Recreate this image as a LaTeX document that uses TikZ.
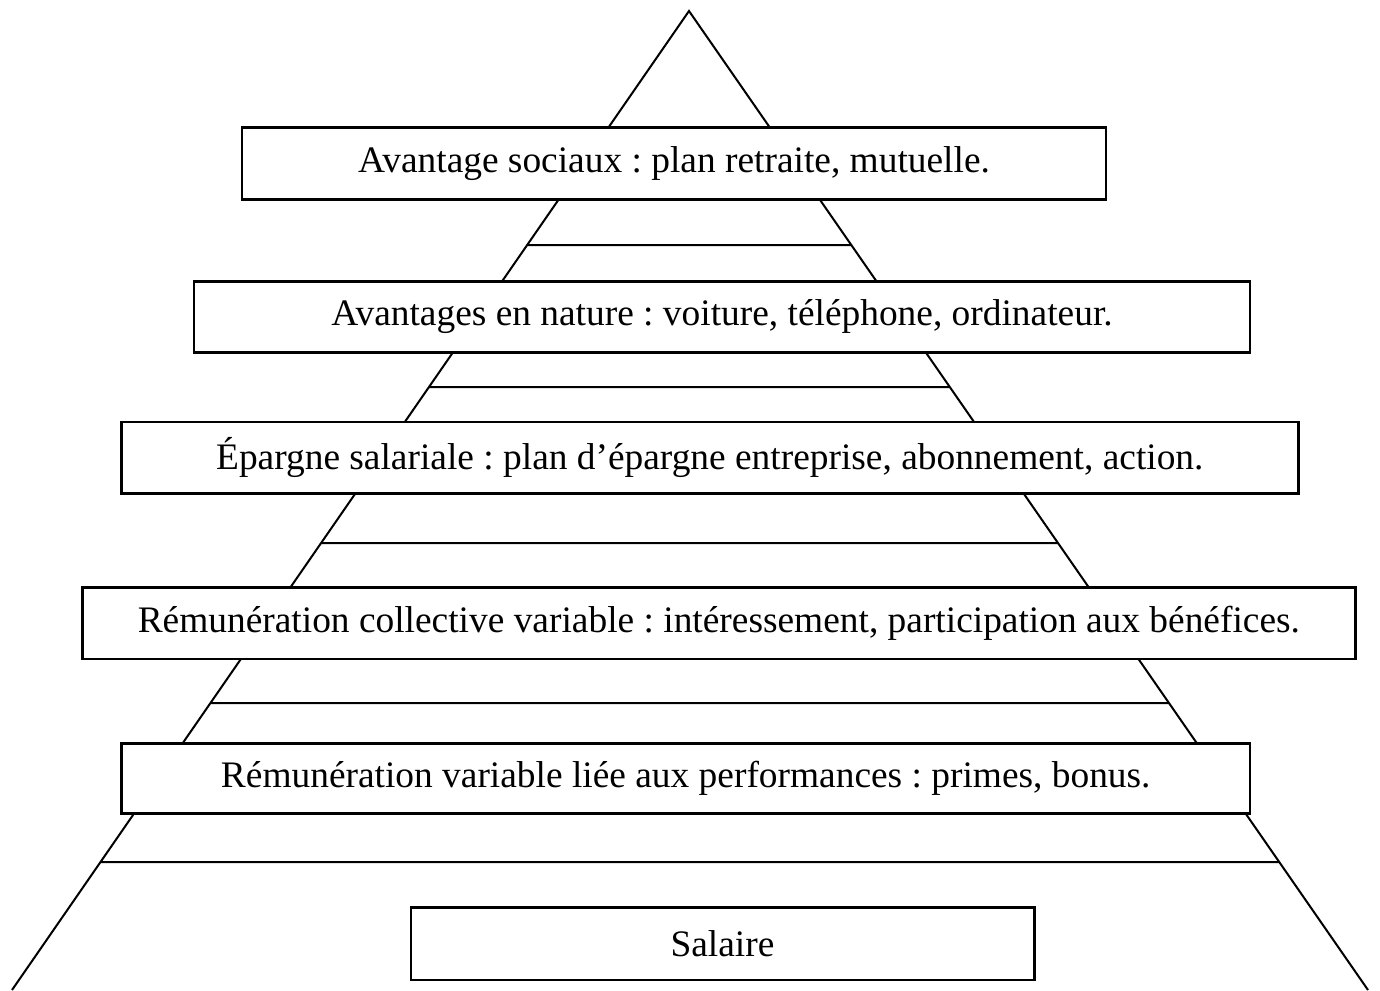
\documentclass[tikz,border=0pt]{standalone}
\usepackage{fontspec}
\setmainfont{Liberation Serif}
\frenchspacing
\begin{document}
\begin{tikzpicture}[x=0.5pt,y=-0.5pt,
  edge/.style={line width=1pt,black},
  tier/.style={draw,line width=1.2pt,fill=white,inner sep=0pt,
    font=\fontsize{18.7}{22}\selectfont},
]
\useasboundingbox (0,0) rectangle (1380,990);

% pyramid outline
\coordinate (apex) at (689,11);
\coordinate (bl) at (12,990);
\coordinate (br) at (1368,990);
\draw[edge] (bl) -- (apex) -- (br);

% horizontal steps, ending on the sides
\foreach \h [count=\i] in {245,387,543,703,862}{
  \coordinate (sl\i) at (intersection of apex--bl and 0,\h--1380,\h);
  \coordinate (sr\i) at (intersection of apex--br and 0,\h--1380,\h);
  \draw[edge] (sl\i) -- (sr\i);
}

% labelled tiers
\node[tier,minimum width=432pt,minimum height=36pt] (t1) at (674,163.3)
  {Avantage sociaux : plan retraite, mutuelle.};
\node[tier,minimum width=528pt,minimum height=35.5pt] (t2) at (722,316.8)
  {Avantages en nature : voiture, téléphone, ordinateur.};
\node[tier,minimum width=588.5pt,minimum height=35.7pt] (t3) at (709.8,457.7)
  {Épargne salariale : plan d’épargne entreprise, abonnement, action.};
\node[tier,minimum width=636.5pt,minimum height=35.8pt] (t4) at (718.8,623.2)
  {Rémunération collective variable : intéressement, participation aux bénéfices.};
\node[tier,minimum width=564.4pt,minimum height=35pt] (t5) at (685.7,778.3)
  {Rémunération variable liée aux performances : primes, bonus.};
\node[tier,minimum width=311.8pt,minimum height=36.4pt] (t6) at (722.5,943.7)
  {Salaire};
\end{tikzpicture}
\end{document}
